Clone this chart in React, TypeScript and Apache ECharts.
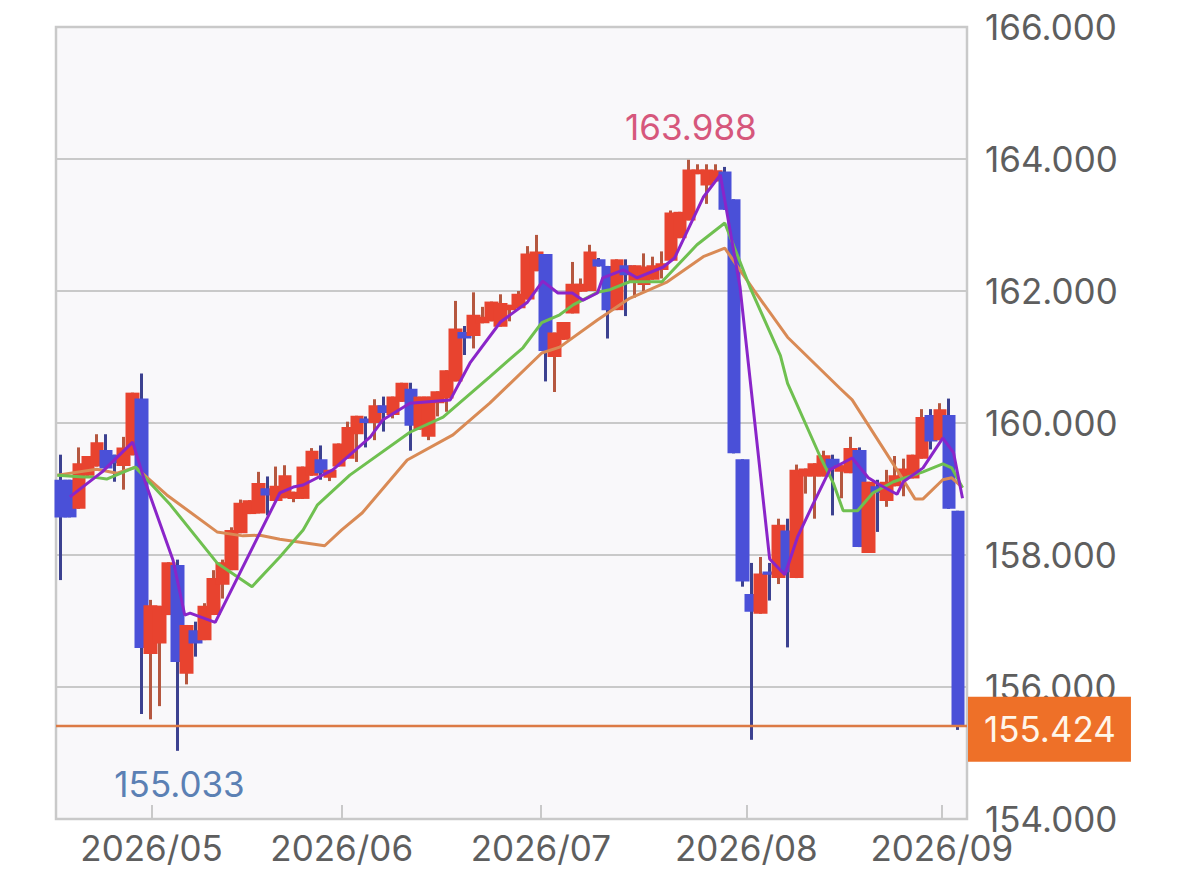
import React, { useEffect, useRef } from 'react';
import * as echarts from 'echarts';

const opens = [
  159.14, 159.14, 158.70, 159.20, 159.34, 159.59, 159.52, 159.35, 159.51, 160.37,
  156.50, 156.66, 157.09, 157.85, 156.20, 156.86, 156.71, 157.09, 157.55, 157.77,
  158.33, 158.62, 158.63, 159.01, 158.82, 158.86, 158.85, 158.85, 159.20, 159.45,
  159.17, 159.34, 159.46, 159.83, 160.07, 160.00, 160.27, 160.12, 160.32, 160.52,
  159.90, 159.79, 160.30, 160.37, 160.63, 161.38, 161.32, 161.51, 161.54, 161.46,
  161.71, 161.74, 161.87, 162.30, 162.56, 161.00, 161.26, 161.66, 161.99, 162.00,
  162.48, 162.38, 161.71, 162.39, 162.14, 162.09, 162.17, 162.32, 162.46, 162.80,
  163.07, 163.77, 163.60, 163.66, 163.81, 163.39, 159.45, 157.41, 157.11, 157.75,
  157.65, 158.37, 157.65, 159.19, 159.19, 159.19, 159.46, 159.26, 159.24, 159.59,
  158.03, 159.04, 158.82, 159.04, 159.16, 159.16, 159.46, 160.12, 159.74, 160.12,
  158.67,
];
const closes = [
  158.57, 158.57, 159.39, 159.50, 159.71, 159.31, 159.39, 159.63, 160.46, 156.59,
  157.24, 157.23, 157.89, 156.38, 156.94, 156.66, 157.23, 157.65, 157.89, 158.38,
  158.79, 158.83, 159.09, 158.90, 159.05, 159.21, 158.96, 159.34, 159.58, 159.24,
  159.29, 159.69, 159.94, 160.11, 160.00, 160.27, 160.15, 160.40, 160.61, 159.96,
  160.40, 160.40, 160.48, 160.80, 161.43, 161.28, 161.64, 161.61, 161.84, 161.82,
  161.79, 161.96, 162.57, 162.60, 161.09, 161.37, 161.53, 162.11, 162.11, 162.60,
  162.37, 161.71, 162.48, 162.24, 162.39, 162.37, 162.39, 162.42, 163.19, 163.20,
  163.84, 163.84, 163.84, 163.83, 163.23, 159.54, 157.60, 157.14, 157.72, 157.70,
  158.46, 157.74, 159.29, 159.31, 159.39, 159.51, 159.31, 159.36, 159.62, 158.12,
  159.11, 158.94, 159.11, 159.21, 159.31, 159.52, 160.09, 159.72, 160.21, 158.70,
  155.424,
];
const lows = [
  157.62, 158.57, 158.70, 159.18, 159.34, 159.31, 159.11, 158.99, 159.51, 155.59,
  155.51, 155.71, 157.09, 155.033, 156.04, 156.46, 156.71, 157.09, 157.34, 157.77,
  158.33, 158.62, 158.63, 158.60, 158.82, 158.86, 158.80, 158.85, 159.20, 159.14,
  159.12, 159.34, 159.46, 159.41, 159.63, 159.74, 159.87, 160.07, 160.32, 159.58,
  159.90, 159.74, 160.10, 160.17, 160.63, 161.03, 161.13, 161.51, 161.54, 161.46,
  161.54, 161.74, 161.87, 162.30, 160.63, 160.47, 161.26, 161.66, 161.99, 162.00,
  162.37, 161.28, 161.71, 161.62, 161.90, 162.00, 162.17, 162.19, 162.46, 162.80,
  163.07, 163.77, 163.32, 163.66, 163.23, 159.54, 157.52, 155.20, 157.11, 157.31,
  157.56, 156.60, 157.65, 158.93, 158.55, 159.19, 158.60, 158.86, 159.24, 158.12,
  158.03, 158.35, 158.73, 159.04, 158.89, 159.16, 159.46, 159.60, 159.74, 158.70,
  155.35,
];
const highs = [
  159.52, 159.14, 159.63, 159.50, 159.83, 159.83, 159.52, 159.79, 160.46, 160.75,
  157.32, 157.23, 157.89, 157.93, 156.94, 156.99, 157.27, 157.77, 157.93, 158.42,
  158.84, 158.83, 159.26, 159.19, 159.34, 159.36, 158.96, 159.34, 159.62, 159.66,
  159.29, 159.69, 160.02, 160.11, 160.10, 160.36, 160.40, 160.40, 160.61, 160.61,
  160.40, 160.40, 160.48, 160.80, 161.85, 161.47, 161.98, 161.76, 161.84, 161.95,
  161.79, 162.00, 162.68, 162.85, 162.56, 161.37, 161.53, 162.44, 162.19, 162.70,
  162.50, 162.38, 162.48, 162.48, 162.39, 162.57, 162.52, 162.60, 163.22, 163.20,
  163.988, 163.92, 163.92, 163.92, 163.88, 163.39, 159.45, 157.88, 157.97, 157.88,
  158.55, 158.55, 159.37, 159.31, 159.39, 159.58, 159.52, 159.36, 159.79, 159.63,
  159.11, 159.14, 159.29, 159.50, 159.46, 159.52, 160.21, 160.21, 160.30, 160.37,
  158.67,
];

// moving averages: the source draws them with few vertices, so each keeps its own sessions
const shortSessions = [1, 4.6, 6.25, 8, 9.2, 12.5, 13.8, 14.4, 17.2, 24.4, 25.9, 27, 30.3, 34.5, 35.9, 38.9, 43.4, 45.6, 49, 52, 53.7, 55.4, 57, 58.2, 59.8, 60.4, 62.7, 64.2, 67.1, 68.4, 71.6, 73.5, 75.7, 79, 80.7, 82.1, 83.8, 85.7, 88.2, 90, 91.3, 93.2, 93.9, 96.1, 98.3, 99.5, 100.5];
const shortValues = [158.88, 159.26, 159.48, 159.71, 159.18, 157.92, 157.09, 157.12, 156.98, 158.94, 159.03, 159.06, 159.29, 159.79, 160.05, 160.30, 160.35, 160.91, 161.53, 161.83, 162.15, 161.97, 161.97, 161.86, 161.97, 162.2, 162.32, 162.2, 162.36, 162.5, 163.42, 163.76, 162.06, 157.94, 157.7, 158.27, 158.76, 159.29, 159.47, 159.17, 159.06, 158.92, 159.11, 159.32, 159.77, 159.55, 158.86];
const midSessions = [-0.4, 2.5, 3.6, 5.1, 8.3, 12.2, 17.4, 21.3, 24.4, 27, 28.6, 32.2, 38.9, 42.6, 47.8, 51.5, 53.6, 55.6, 57.1, 59.8, 61.2, 63.4, 67, 70.9, 74, 76.8, 80.2, 81, 84.6, 86.1, 87.2, 88.8, 90.5, 92.8, 96.1, 98.3, 99.3, 100.5];
const midValues = [159.21, 159.18, 159.18, 159.15, 159.33, 158.76, 157.88, 157.52, 157.97, 158.38, 158.76, 159.21, 159.86, 160.09, 160.7, 161.14, 161.52, 161.64, 161.79, 161.98, 162.02, 162.14, 162.14, 162.7, 163.03, 162.06, 161.02, 160.6, 159.5, 159.09, 158.67, 158.67, 158.94, 159.11, 159.26, 159.38, 159.32, 159.02];
const longSessions = [-0.4, 4, 6.25, 8.3, 11.8, 17.4, 20.3, 22.2, 24.4, 29.4, 31.3, 33.6, 38.6, 43.7, 47.8, 53.6, 55.6, 59.8, 63.4, 67.6, 71.6, 74, 77.2, 81, 86.8, 88.2, 93.2, 95.2, 96.1, 98.3, 99.3, 100.5];
const longValues = [159.21, 159.3, 159.24, 159.33, 158.91, 158.35, 158.29, 158.3, 158.24, 158.14, 158.38, 158.64, 159.44, 159.82, 160.3, 161.06, 161.15, 161.56, 161.89, 162.14, 162.52, 162.65, 162.02, 161.3, 160.53, 160.35, 159.29, 158.85, 158.85, 159.14, 159.17, 159.02];

const monthSessions = [10.1, 31.3, 53.5, 76.4, 98.2];
const monthLabels = ['2026/05', '2026/06', '2026/07', '2026/08', '2026/09'];

const highSession = 70;
const highValue = 163.988;
const lowSession = 13;
const lowValue = 155.033;
const lastValue = 155.424;

const FONT = 'Inter, sans-serif';
const candles = opens.map((open, i) => [i, open, closes[i], lows[i], highs[i]]);
const pairs = (xs: number[], ys: number[]) => xs.map((x, i) => [x, ys[i]]);

export default function App() {
  const chartRef = useRef<HTMLDivElement>(null);

  useEffect(() => {
    if (!chartRef.current) return;
    const myChart = echarts.init(chartRef.current, null, { renderer: 'svg' });

    const lineSeries = (data: number[][], color: string, z: number) => ({
      type: 'line',
      data,
      symbol: 'none',
      z,
      lineStyle: { color, width: 3 },
    });

    myChart.setOption({
      animation: false,
      backgroundColor: '#ffffff',
      grid: {
        left: 56,
        right: 233,
        top: 27,
        bottom: 58,
        show: true,
        backgroundColor: '#f9f8fa',
        borderColor: '#c9c9c9',
        borderWidth: 2.5,
      },
      xAxis: {
        type: 'value',
        min: -0.55,
        max: 101,
        splitLine: { show: false },
        axisLine: { show: false },
        axisTick: {
          show: true,
          inside: true,
          length: 14,
          customValues: monthSessions,
          lineStyle: { color: '#c9c9c9', width: 2 },
        },
        axisLabel: {
          customValues: monthSessions,
          formatter: (v: number) => monthLabels[monthSessions.indexOf(v)] ?? '',
          color: '#5e5e5e',
          fontFamily: FONT,
          fontSize: 35,
          margin: 11,
        },
      },
      yAxis: {
        type: 'value',
        position: 'right',
        min: 154,
        max: 166,
        interval: 2,
        axisLine: { show: false },
        axisTick: { show: false },
        splitLine: { lineStyle: { color: '#c9c9c9', width: 2 } },
        axisLabel: {
          formatter: (v: number) => v.toFixed(3),
          color: '#5e5e5e',
          fontFamily: FONT,
          fontSize: 35,
          margin: 18,
          padding: [0, 0, 2, 0],
        },
      },
      series: [
        {
          // wicks only: the bodies series below has no stroke
          type: 'candlestick',
          data: candles,
          barWidth: 1,
          z: 3,
          itemStyle: {
            color: '#b5573f',
            color0: '#3c4190',
            borderColor: '#b5573f',
            borderColor0: '#3c4190',
            borderWidth: 3,
          },
        },
        {
          type: 'candlestick',
          data: candles,
          barWidth: 14,
          z: 4,
          itemStyle: {
            color: '#e8432f',
            color0: '#4a50d8',
            borderColor: '#e8432f',
            borderColor0: '#4a50d8',
            borderWidth: 0,
          },
        },
        lineSeries(pairs(longSessions, longValues), '#d98a55', 5),
        lineSeries(pairs(midSessions, midValues), '#6fc050', 6),
        {
          ...lineSeries(pairs(shortSessions, shortValues), '#8a25c9', 7),
          markPoint: {
            symbol: 'circle',
            symbolSize: 0,
            data: [
              {
                coord: [highSession, highValue],
                label: { show: true, formatter: highValue.toFixed(3), color: '#d6577c', fontFamily: FONT, fontSize: 35, offset: [2, -33] },
              },
              {
                coord: [lowSession, lowValue],
                label: { show: true, formatter: lowValue.toFixed(3), color: '#5b80b4', fontFamily: FONT, fontSize: 35, offset: [2, 33] },
              },
            ],
          },
          markLine: {
            silent: true,
            symbol: 'none',
            z: 10,
            lineStyle: { color: '#dc7a45', width: 2.4, type: 'solid' },
            data: [{ yAxis: lastValue }],
            label: {
              position: 'end',
              distance: 1,
              offset: [0, 4],
              formatter: lastValue.toFixed(3),
              color: '#fff6ea',
              backgroundColor: '#ee7028',
              fontFamily: FONT,
              fontSize: 35,
              padding: [15, 15, 15, 16],
            },
          },
        },
      ],
    });

    return () => {
      myChart.dispose();
    };
  }, []);

  return (
    <div
      ref={chartRef}
      style={{ position: 'absolute', left: 0, top: 0, width: 1200, height: 877 }}
    />
  );
}
